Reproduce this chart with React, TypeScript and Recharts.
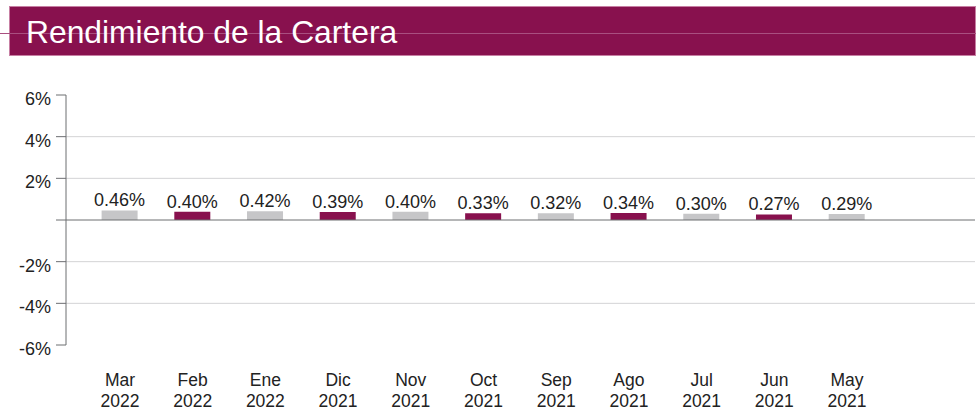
import React from 'react';
import { BarChart, Bar, XAxis, YAxis, ReferenceLine, LabelList, Cell } from 'recharts';

const months = ['Mar', 'Feb', 'Ene', 'Dic', 'Nov', 'Oct', 'Sep', 'Ago', 'Jul', 'Jun', 'May'];
const years = ['2022', '2022', '2022', '2021', '2021', '2021', '2021', '2021', '2021', '2021', '2021'];
const values = [0.46, 0.40, 0.42, 0.39, 0.40, 0.33, 0.32, 0.34, 0.30, 0.27, 0.29];
const yTicks = [6, 4, 2, 0, -2, -4, -6];
const gridValues = [4, 2, -2, -4];
const title = 'Rendimiento de la Cartera';

const MAROON = '#88114E';
const GRAY = '#C6C6C8';
const FONT = '"Liberation Sans", Arial, sans-serif';

const data = months.map((m, i) => ({ name: m + ' ' + years[i], month: m, year: years[i], value: values[i] }));

const XTick = (props: any) => {
  const { x, y, index } = props;
  const d = data[index];
  return (
    <g>
      <text x={x} y={y + 41} textAnchor="middle" fill="#222" fontSize={17.5} fontFamily={FONT}>{d.month}</text>
      <text x={x} y={y + 61.5} textAnchor="middle" fill="#222" fontSize={17.5} fontFamily={FONT}>{d.year}</text>
    </g>
  );
};

const YTick = (props: any) => {
  const { x, y, payload } = props;
  const v = payload.value;
  if (v === 0) return <g />;
  return (
    <text x={x} y={y + 10} textAnchor="end" fill="#222" fontSize={18} fontFamily={FONT}>{v + '%'}</text>
  );
};

export default function App() {
  return (
    <div style={{ position: 'absolute', left: 0, top: 0, width: 980, height: 409, background: '#fff', fontFamily: FONT }}>
      <div style={{ position: 'absolute', left: 9, top: 6, width: 967, height: 50, background: MAROON, boxShadow: 'inset 0 0 0 1px #C77FA3' }} />
      <div style={{ position: 'absolute', left: 0, top: 32.5, width: 976, height: 1, background: '#A94F80' }} />
      <div style={{ position: 'absolute', left: 26, top: 8, height: 48, lineHeight: '48px', color: '#fff', fontSize: 31.8, whiteSpace: 'nowrap' }}>{title}</div>
      <div style={{ position: 'absolute', left: 0, top: 0 }}>
        <BarChart width={980} height={409} data={data} margin={{ top: 95, right: 5, left: 0, bottom: 0 }} style={{ fontFamily: FONT }}>
          {gridValues.map((g) => (
            <ReferenceLine key={g} y={g} stroke="#D3D3D5" strokeWidth={1} />
          ))}
          <XAxis dataKey="name" axisLine={false} tickLine={false} tickSize={0} tickMargin={0} height={64} interval={0} padding={{ left: 17.6, right: 91.6 }} tick={<XTick />} />
          <YAxis type="number" domain={[-6, 6]} ticks={yTicks} width={66} tickSize={10} tickMargin={5} axisLine={{ stroke: '#6D6E71' }} tickLine={{ stroke: '#6D6E71' }} tick={<YTick />} interval={0} />
          <Bar dataKey="value" barSize={36} isAnimationActive={false}>
            {data.map((d, i) => (
              <Cell key={d.name} fill={i % 2 === 0 ? GRAY : MAROON} />
            ))}
            <LabelList dataKey="value" position="top" offset={4} fill="#222" fontSize={18} fontFamily={FONT} formatter={(v: any) => Number(v).toFixed(2) + '%'} />
          </Bar>
          <ReferenceLine y={0} stroke="#6D6E71" strokeWidth={1} />
        </BarChart>
      </div>
    </div>
  );
}
